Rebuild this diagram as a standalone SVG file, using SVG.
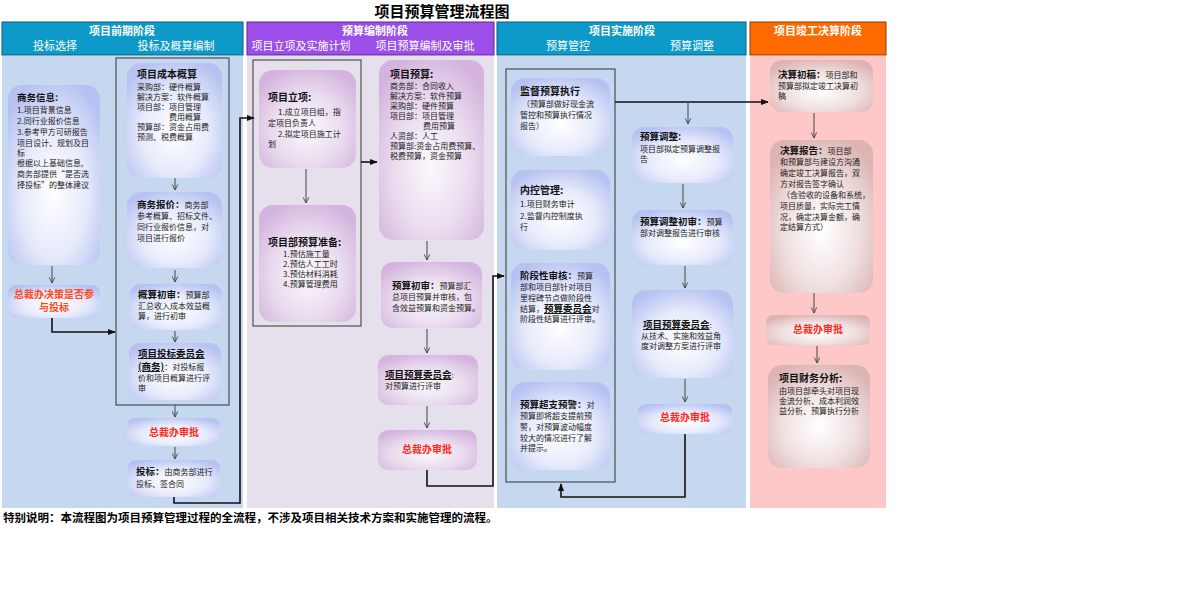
<svg xmlns="http://www.w3.org/2000/svg" width="1200" height="594" viewBox="0 0 1200 594">
<style>
text{font-family:"Noto Sans CJK SC","Noto Sans",sans-serif;fill:#222;font-size:8px}
.t{font-size:10px;font-weight:bold;fill:#111}
.b{font-weight:bold;font-size:9.5px;fill:#111}
.u{text-decoration:underline}
.hd{font-size:11px;font-weight:bold;fill:#fff;text-anchor:middle}
.sh{font-size:11px;fill:#fff;text-anchor:middle}
.red{font-size:10px;font-weight:bold;fill:#ff2a1a;text-anchor:middle}
.nb{stroke:none}
.ob{fill:none;stroke:#333;stroke-width:1}
.ar{fill:none;stroke:#444;stroke-width:1;marker-end:url(#v)}
.tk{fill:none;stroke:#111;stroke-width:1.6;marker-end:url(#f)}
</style>
<defs>
<radialGradient id="gb" cx="50%" cy="60%" r="65%"><stop offset="0" stop-color="#ffffff"/><stop offset="0.55" stop-color="#e6eafb"/><stop offset="1" stop-color="#b7c2f2"/></radialGradient>
<radialGradient id="gp" cx="50%" cy="60%" r="65%"><stop offset="0" stop-color="#fbf8fc"/><stop offset="0.55" stop-color="#eadcef"/><stop offset="1" stop-color="#d4b4de"/></radialGradient>
<radialGradient id="gr" cx="50%" cy="60%" r="65%"><stop offset="0" stop-color="#ffffff"/><stop offset="0.55" stop-color="#f0e0e0"/><stop offset="1" stop-color="#dcb4b4"/></radialGradient>
<marker id="v" viewBox="0 0 10 10" refX="9" refY="5" markerWidth="7" markerHeight="7" orient="auto"><path d="M1,1 L9,5 L1,9" fill="none" stroke="#444" stroke-width="1.3"/></marker>
<marker id="f" viewBox="0 0 10 10" refX="9" refY="5" markerWidth="5" markerHeight="5" orient="auto"><path d="M0,1 L10,5 L0,9 Z" fill="#111"/></marker>
</defs>
<rect width="1200" height="594" fill="#fff"/>
<text x="442" y="17" style="font-size:15px;font-weight:bold;text-anchor:middle;fill:#000">项目预算管理流程图</text>

<g id="headers">
<rect x="2" y="22" width="241" height="33" fill="#0e9ac8" stroke="#0a5a80"/>
<text class="hd" x="122" y="35">项目前期阶段</text><text class="sh" x="55" y="50">投标选择</text><text class="sh" x="176" y="50">投标及概算编制</text>
<rect x="247" y="22" width="247" height="33" fill="#9b4fe8" stroke="#5a2a90"/>
<text class="hd" x="375" y="35">预算编制阶段</text><text class="sh" x="301" y="50">项目立项及实施计划</text><text class="sh" x="425" y="50">项目预算编制及审批</text>
<rect x="497" y="22" width="249" height="33" fill="#0e9ac8" stroke="#0a5a80"/>
<text class="hd" x="622" y="35">项目实施阶段</text><text class="sh" x="568" y="50">预算管控</text><text class="sh" x="692" y="50">预算调整</text>
<rect x="750" y="22" width="136" height="33" fill="#ff6a00" stroke="#8a3a00"/>
<text class="hd" x="818" y="35">项目竣工决算阶段</text>
</g>
<g id="lanes">
<rect x="2" y="56" width="241" height="452" fill="#c6d8f0"/>
<rect x="247" y="56" width="247" height="452" fill="#e6e0ec"/>
<rect x="497" y="56" width="249" height="452" fill="#c6d8f0"/>
<rect x="750" y="56" width="136" height="452" fill="#ffc8c8"/>
<rect class="ob" x="116" y="58" width="113" height="347"/>
<rect class="ob" x="253" y="60" width="108" height="266"/>
<rect class="ob" x="506" y="69" width="109" height="413"/>
</g>

<g id="n1"><rect x="8" y="85" width="92" height="180" rx="14" fill="url(#gb)"/>
<text x="17" y="101" class="b">商务信息:</text>
<text x="17" y="113">1.项目背景信息</text><text x="17" y="124">2.同行业报价信息</text><text x="17" y="135">3.参考甲方可研报告</text><text x="17" y="146">项目设计、规划及目</text><text x="17" y="156">标</text><text x="17" y="166">根据以上基础信息,</text><text x="17" y="177">商务部提供“是否选</text><text x="17" y="188">择投标”的整体建议</text></g>
<g id="n2"><rect x="8" y="285" width="92" height="33" rx="8" fill="url(#gb)"/>
<text class="red" x="54" y="298" style="fill:#ff4a20">总裁办决策是否参</text><text class="red" x="54" y="311" style="fill:#ff4a20">与投标</text></g>
<g id="n3"><rect x="127" y="63" width="95" height="115" rx="14" fill="url(#gb)"/>
<text x="137" y="78" class="t">项目成本概算</text>
<text x="137" y="90">采购部：硬件概算</text><text x="137" y="100">解决方案：软件概算</text><text x="137" y="110">项目部：项目管理</text><text x="169" y="120">费用概算</text><text x="137" y="130">预算部：资金占用费</text><text x="137" y="140">预测、税费概算</text></g>
<g id="n4"><rect x="127" y="192" width="95" height="76" rx="14" fill="url(#gb)"/>
<text x="137" y="208"><tspan class="b">商务报价：</tspan>商务部</text><text x="137" y="219">参考概算、招标文件、</text><text x="137" y="230">同行业报价信息，对</text><text x="137" y="241">项目进行报价</text></g>
<g id="n5"><rect x="130" y="284" width="92" height="46" rx="10" fill="url(#gb)"/>
<text x="138" y="298"><tspan class="b">概算初审：</tspan>预算部</text><text x="138" y="309">汇总收入成本效益概</text><text x="138" y="319">算，进行初审</text></g>
<g id="n6"><rect x="129" y="343" width="92" height="57" rx="10" fill="url(#gb)"/>
<text x="138" y="357" class="b u">项目投标委员会</text><text x="138" y="370"><tspan class="b u">(商务)</tspan>：对投标报</text><text x="138" y="381">价和项目概算进行评</text><text x="138" y="391">审</text></g>
<g id="n7"><rect x="127" y="418" width="93" height="28" rx="7" fill="url(#gb)"/><text class="red" x="174" y="436">总裁办审批</text></g>
<g id="n8"><rect x="128" y="460" width="92" height="37" rx="8" fill="url(#gb)"/>
<text x="136" y="475"><tspan class="b">投标：</tspan>由商务部进行</text><text x="136" y="487">投标、签合同</text></g>

<g id="n9"><rect x="259" y="70" width="97" height="98" rx="14" fill="url(#gp)"/>
<text x="268" y="101" class="t">项目立项:</text><text x="278" y="115">1.成立项目组，指</text><text x="268" y="126">定项目负责人</text><text x="278" y="137">2.拟定项目施工计</text><text x="268" y="147">划</text></g>
<g id="n10"><rect x="259" y="205" width="97" height="117" rx="14" fill="url(#gp)"/>
<text x="268" y="246" class="t">项目部预算准备:</text><text x="283" y="257">1.预估施工量</text><text x="283" y="267">2.预估人工工时</text><text x="283" y="277">3.预估材料消耗</text><text x="283" y="287">4.预算管理费用</text></g>
<g id="n11"><rect x="379" y="60" width="105" height="180" rx="14" fill="url(#gp)"/>
<text x="390" y="78" class="t">项目预算:</text>
<text x="390" y="89">商务部：合同收入</text><text x="390" y="99">解决方案：软件预算</text><text x="390" y="109">采购部：硬件预算</text><text x="390" y="119">项目部：项目管理</text><text x="423" y="129">费用预算</text><text x="390" y="139">人资部：人工</text><text x="390" y="149">预算部:资金占用费预算、</text><text x="390" y="159">税费预算，资金预算</text></g>
<g id="n12"><rect x="381" y="262" width="101" height="66" rx="12" fill="url(#gp)"/>
<text x="392" y="289"><tspan class="b">预算初审：</tspan>预算部汇</text><text x="392" y="300">总项目预算并审核，包</text><text x="392" y="311">含效益预算和资金预算。</text></g>
<g id="n13"><rect x="378" y="355" width="100" height="50" rx="10" fill="url(#gp)"/>
<text x="385" y="378"><tspan class="b u">项目预算委员会</tspan>:</text><text x="385" y="389">对预算进行评审</text></g>
<g id="n14"><rect x="378" y="430" width="99" height="40" rx="10" fill="url(#gp)"/><text class="red" x="427" y="453">总裁办审批</text></g>

<g id="n15"><rect x="511" y="78" width="99" height="78" rx="14" fill="url(#gb)"/>
<text x="520" y="95" class="t">监督预算执行</text><text x="522" y="107">（预算部做好现金流</text><text x="520" y="118">管控和预算执行情况</text><text x="520" y="129">报告）</text></g>
<g id="n16"><rect x="511" y="170" width="99" height="80" rx="14" fill="url(#gb)"/>
<text x="520" y="194" class="t">内控管理:</text><text x="520" y="207">1.项目财务审计</text><text x="520" y="219">2.监督内控制度执</text><text x="520" y="230">行</text></g>
<g id="n17"><rect x="511" y="263" width="99" height="107" rx="14" fill="url(#gb)"/>
<text x="520" y="279"><tspan class="b">阶段性审核：</tspan>预算</text><text x="520" y="290">部和项目部针对项目</text><text x="520" y="301">里程碑节点做阶段性</text><text x="520" y="312">结算，<tspan class="b u">预算委员会</tspan>对</text><text x="520" y="322">阶段性结算进行评审。</text></g>
<g id="n18"><rect x="511" y="382" width="99" height="88" rx="14" fill="url(#gb)"/>
<text x="520" y="408"><tspan class="b">预算超支预警：</tspan>对</text><text x="520" y="419">预算即将超支提前预</text><text x="520" y="430">警，对预算波动幅度</text><text x="520" y="441">较大的情况进行了解</text><text x="520" y="451">并提示。</text></g>
<g id="n19"><rect x="632" y="127" width="101" height="56" rx="12" fill="url(#gb)"/>
<text x="640" y="140" class="b">预算调整:</text><text x="640" y="152">项目部拟定预算调整报</text><text x="640" y="162">告</text></g>
<g id="n20"><rect x="632" y="210" width="101" height="55" rx="12" fill="url(#gb)"/>
<text x="640" y="225"><tspan class="b">预算调整初审：</tspan>预算</text><text x="640" y="236">部对调整报告进行审核</text></g>
<g id="n21"><rect x="632" y="290" width="101" height="88" rx="14" fill="url(#gb)"/>
<text x="643" y="328"><tspan class="b u">项目预算委员会</tspan>:</text><text x="641" y="339">从技术、实施和效益角</text><text x="641" y="349">度对调整方案进行评审</text></g>
<g id="n22"><rect x="638" y="404" width="94" height="30" rx="7" fill="url(#gb)"/><text class="red" x="685" y="421">总裁办审批</text></g>

<g id="n23"><rect x="770" y="60" width="103" height="52" rx="12" fill="url(#gr)"/>
<text x="778" y="78"><tspan class="b">决算初稿：</tspan>项目部和</text><text x="778" y="89">预算部拟定竣工决算初</text><text x="778" y="99">稿</text></g>
<g id="n24"><rect x="770" y="140" width="103" height="153" rx="14" fill="url(#gr)"/>
<text x="780" y="154"><tspan class="b">决算报告：</tspan>项目部</text><text x="780" y="165">和预算部与建设方沟通</text><text x="780" y="176">确定竣工决算报告，双</text><text x="780" y="187">方对报告签字确认</text><text x="782" y="198">（含验收的设备和系统，</text><text x="780" y="209">项目质量，实际完工情</text><text x="780" y="220">况，确定决算金额，确</text><text x="780" y="230">定结算方式）</text></g>
<g id="n25"><rect x="766" y="315" width="104" height="30" rx="7" fill="url(#gr)"/><text class="red" x="818" y="333">总裁办审批</text></g>
<g id="n26"><rect x="768" y="365" width="102" height="103" rx="14" fill="url(#gr)"/>
<text x="779" y="382" class="t">项目财务分析:</text><text x="779" y="394">由项目部牵头对项目现</text><text x="779" y="404">金流分析、成本利润效</text><text x="779" y="414">益分析、预算执行分析</text></g>

<g id="connectors">
<path class="ar" d="M52,266 V283"/>
<path class="tk" d="M52,318 V332 H115"/>
<path class="ar" d="M175,178 V190"/>
<path class="ar" d="M175,270 V282"/>
<path class="ar" d="M175,331 V342"/>
<path class="ar" d="M175,405 V417"/>
<path class="ar" d="M175,447 V459"/>
<path class="tk" d="M174,497 V503 H240 V118 H254"/>
<path class="ar" d="M306,169 V203"/>
<path class="tk" d="M361,162 H377"/>
<path class="ar" d="M427,241 V260"/>
<path class="ar" d="M427,329 V353"/>
<path class="ar" d="M427,406 V428"/>
<path class="tk" d="M427,470 V486 H493 V276 H504"/>
<path class="tk" d="M615,102 H768"/>
<path class="ar" d="M688,103 V124"/>
<path class="ar" d="M683,184 V208"/>
<path class="ar" d="M685,266 V288"/>
<path class="ar" d="M685,379 V402"/>
<path class="tk" d="M685,434 V497 H561 V484"/>
<path class="ar" d="M814,113 V138"/>
<path class="ar" d="M814,293 V313"/>
<path class="ar" d="M817,346 V363"/>
</g>
<text x="3" y="522" style="font-size:11.5px;font-weight:bold;fill:#000">特别说明：本流程图为项目预算管理过程的全流程，不涉及项目相关技术方案和实施管理的流程。</text>
</svg>
